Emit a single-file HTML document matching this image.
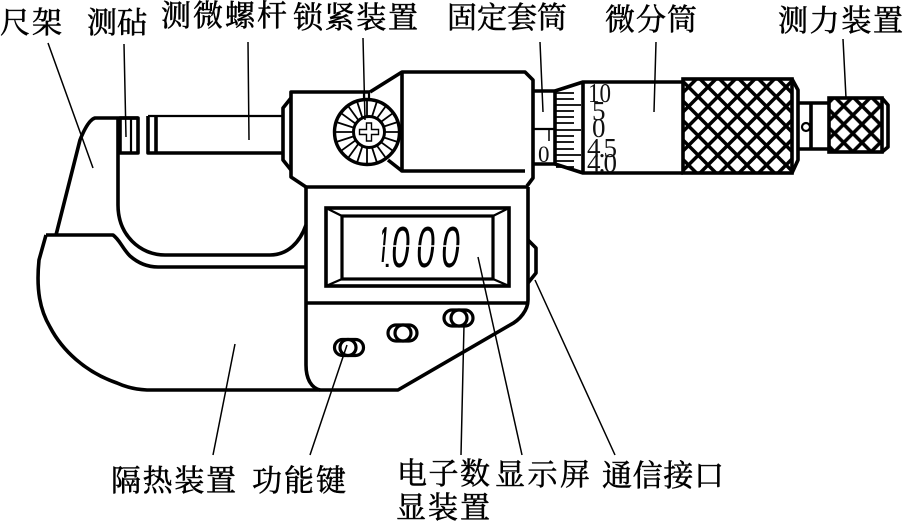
<!DOCTYPE html>
<html><head><meta charset="utf-8"><style>
html,body{margin:0;padding:0;background:#fff;width:903px;height:522px;overflow:hidden}
svg{display:block}
.l{font-family:"Liberation Serif","Noto Serif CJK SC",serif;font-size:30px;fill:#000;stroke:#000;stroke-width:.55px}
.n{font-family:"Liberation Serif",serif;font-size:27px;fill:#111}
.s{fill:none;stroke:#000;stroke-width:3.6;stroke-linejoin:round}
.t{fill:none;stroke:#000;stroke-width:1.5}
.m{fill:none;stroke:#000;stroke-width:2.2}
.d{font-family:"Liberation Sans",sans-serif;font-size:58px;fill:#000}
</style></head><body>
<svg width="903" height="522" viewBox="0 0 903 522" xmlns="http://www.w3.org/2000/svg">
<defs>
<pattern id="k1" width="19.5" height="19.5" patternUnits="userSpaceOnUse" x="688.5" y="87">
<path d="M-5 5L5 -5M-5 24.500L24.500 -5M14.500 24.500L24.500 14.500M-5 -5L24.500 24.500M14.500 -5L24.500 5M-5 14.500L5 24.500" stroke="#000" stroke-width="3.5" fill="none"/>
</pattern>
<pattern id="k2" width="18.3" height="18.3" patternUnits="userSpaceOnUse" x="843.7" y="106">
<path d="M-5 5L5 -5M-5 23.300L23.300 -5M13.300 23.300L23.300 13.300M-5 -5L23.300 23.300M13.300 -5L23.300 5M-5 13.300L5 23.300" stroke="#000" stroke-width="3.5" fill="none"/>
</pattern>
<clipPath id="one"><polygon points="379.500,262 384.500,262 390,224 383,224"/></clipPath>
</defs>

<!-- frame -->
<path class="s" d="M138 118H95Q88 120 80 140L56 235"/>
<path class="s" d="M118 118V205C118 235 140 255 165 255H270C288 255 300 242 306 225"/>
<rect class="s" x="120" y="118" width="18" height="35"/>
<path class="m" d="M131 119V152"/>
<path class="s" d="M46 235H113C120 240 122 248 130 256C138 263 148 267 158 267H306"/>
<path class="s" d="M46 235L39 260C36 290 40 310 50 327C62 350 85 372 117 383Q130 389 147 390H398L510 325C520 320 528 310 528 300V187"/>
<path class="s" d="M306 187V365C306 380 312 388 320 390"/>
<path class="s" d="M306 187H528M306 303H528"/>

<!-- spindle -->
<path class="m" d="M148 116H283"/>
<path class="s" d="M283 153H148V116M156 116V153"/>
<path class="s" d="M291 98L283 108V160L291 170"/>
<path class="s" d="M370 92H291V177L306 187"/>
<path class="s" d="M370 92L402 72H525L533 80V178L527 186"/>
<path class="s" d="M402 72V171H525"/>
<path class="s" d="M388 160L402 171"/>

<!-- lock knob -->
<circle cx="367" cy="132" r="32.5" fill="#fff" stroke="#000" stroke-width="3.4"/>
<g stroke="#000" stroke-width="1.8">
<path d="M335 132H399"/>
<path d="M335 132H399" transform="rotate(18 367 132)"/>
<path d="M335 132H399" transform="rotate(36 367 132)"/>
<path d="M335 132H399" transform="rotate(54 367 132)"/>
<path d="M335 132H399" transform="rotate(72 367 132)"/>
<path d="M335 132H399" transform="rotate(90 367 132)"/>
<path d="M335 132H399" transform="rotate(108 367 132)"/>
<path d="M335 132H399" transform="rotate(126 367 132)"/>
<path d="M335 132H399" transform="rotate(144 367 132)"/>
<path d="M335 132H399" transform="rotate(162 367 132)"/>
</g>
<circle cx="369" cy="132" r="15.500" fill="#fff" stroke="#000" stroke-width="3"/>
<path d="M366.500 123H371.500V129.500H378.500V134.500H371.500V141H366.500V134.500H359.500V129.500H366.500Z" fill="#fff" stroke="#000" stroke-width="1.4"/>
<path class="m" d="M364 92V100M369 92V100"/>

<!-- fixed sleeve -->
<path class="s" d="M533 91H555M533 164H555M555 91V164"/>
<path class="m" d="M534 129H555"/>
<path class="t" d="M549 129V141"/>
<text class="n" x="538" y="162" style="font-size:23px">0</text>

<!-- thimble -->
<path class="s" d="M555 91L583 82H683M555 164L583 173H683M583 82V173"/>
<g stroke="#000" stroke-width="1.8">
<path d="M556 93H574M556 99H574M556 105H581M556 111H574M556 117H574M556 123H574M556 130H581M556 136H574M556 142H574M556 149H574M556 155H581M556 161H574M556 167H574"/>
</g>
<text class="n" x="588" y="102" textLength="23" lengthAdjust="spacingAndGlyphs">10</text>
<text class="n" x="592" y="120">5</text>
<text class="n" x="592" y="137">0</text>
<text class="n" x="587" y="157" textLength="30" lengthAdjust="spacing">4.5</text>
<text class="n" x="587" y="172" textLength="30" lengthAdjust="spacing">4.0</text>

<!-- knurl -->
<rect x="683" y="79" width="109" height="94" fill="url(#k1)" stroke="#000" stroke-width="3.6"/>
<path class="s" d="M792 79L798 90V160L792 173"/>
<path class="s" d="M798 103H829M798 149H829M811 103V149"/>
<circle cx="806" cy="127" r="4" fill="#fff" stroke="#000" stroke-width="2.200"/>
<rect x="829" y="98" width="53" height="54" fill="url(#k2)" stroke="#000" stroke-width="3.6"/>
<path class="s" d="M882 98L888 105V147L882 152"/>

<!-- display -->
<rect x="326" y="208" width="183" height="78" fill="#fff" stroke="#000" stroke-width="3.6"/>
<rect x="342" y="216" width="151" height="63" fill="none" stroke="#000" stroke-width="3.2"/>
<path class="m" d="M326 208L342 216M509 208L493 216M326 286L342 279M509 286L493 279"/>
<g class="d">
<g clip-path="url(#one)"><text transform="translate(375 267) skewX(-5) scale(.42 1)">1</text></g>
<text x="383" y="267" style="font-size:30px">.</text>
<text transform="translate(390 267) skewX(-5) scale(.58 1)">0</text>
<text transform="translate(415 267) skewX(-5) scale(.58 1)">0</text>
<text transform="translate(440 267) skewX(-5) scale(.58 1)">0</text>
</g>
<path stroke="#fff" stroke-width="1.6" d="M375 246H462"/>
<path class="s" d="M528 240L536 248V273L528 283"/>

<!-- buttons -->
<g fill="#fff" stroke="#000" stroke-width="3.2">
<rect x="334.500" y="339.500" width="29" height="16" rx="8"/>
<circle cx="348" cy="347.500" r="8"/>
<rect x="388" y="325" width="29" height="16" rx="8"/>
<circle cx="403" cy="333" r="8"/>
<rect x="444" y="310" width="29" height="16" rx="8"/>
<circle cx="459" cy="318" r="8"/>
</g>

<!-- leaders -->
<path class="t" d="M48 43L93 168M124 44L126 137M248 42L249 140M363 38L365 120M540 42L543 112M656 42L654 112M843 39L846 98M235 344L213 455M347 345L310 455M464 325L461 455M478 257L522 455M535 280L615 455"/>

<!-- labels -->
<g class="l">
<text x="0" y="33" textLength="62" lengthAdjust="spacing">尺架</text>
<text x="87" y="33" textLength="60" lengthAdjust="spacing">测砧</text>
<text x="161" y="26" textLength="126">测微螺杆</text>
<text x="293" y="28" textLength="125">锁紧装置</text>
<text x="447" y="28" textLength="120">固定套筒</text>
<text x="605" y="30" textLength="92">微分筒</text>
<text x="778" y="31" textLength="125">测力装置</text>
<text x="111" y="491" textLength="125">隔热装置</text>
<text x="252" y="491" textLength="94">功能键</text>
<text x="397" y="484" textLength="93">电子数</text>
<text x="495" y="485" textLength="95">显示屏</text>
<text x="602" y="486" textLength="122">通信接口</text>
<text x="396" y="518" textLength="94">显装置</text>
</g>
</svg>
</body></html>
